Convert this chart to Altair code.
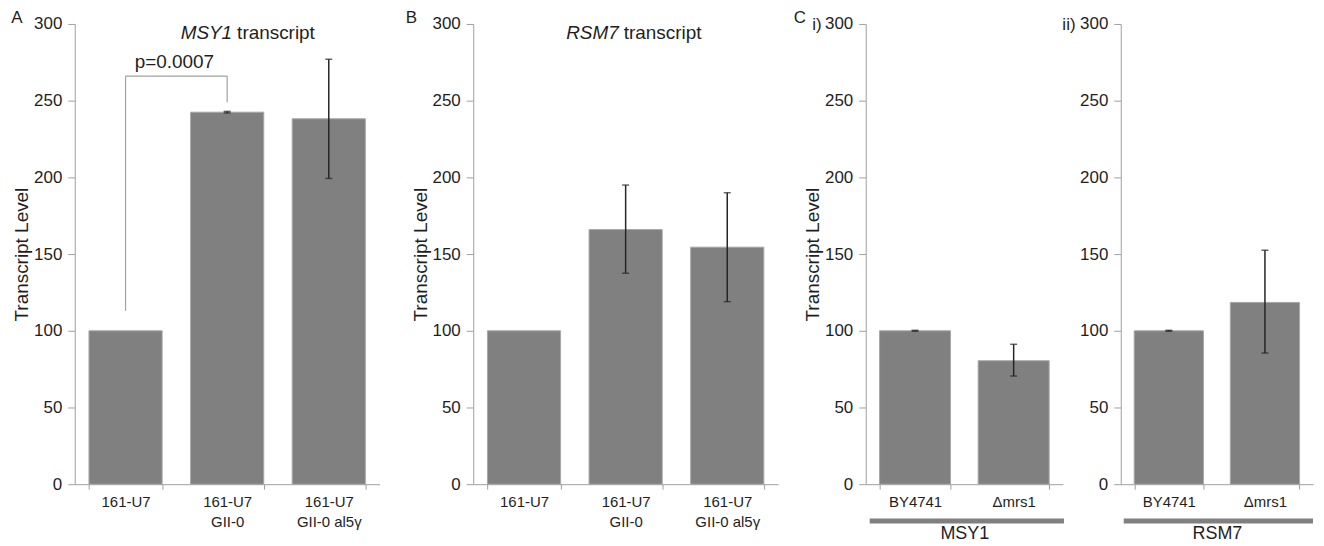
import altair as alt
import pandas as pd

FONT = "Liberation Sans, Arial, Helvetica, sans-serif"
TEXT = "#1e1e1e"
AXIS = "#a0a0a0"
BAR = "#808080"
ERR = "#262626"

# ---------------- data ----------------
cats_ab = ["161-U7", "161-U7\nGII-0", "161-U7\nGII-0 al5γ"]
msy1_vals = [100.0, 242.5, 238.2]
msy1_lo = [None, 242.0, 199.3]
msy1_hi = [None, 243.0, 277.0]
rsm7_vals = [100.0, 166.0, 154.5]
rsm7_lo = [None, 137.5, 119.0]
rsm7_hi = [None, 195.0, 190.0]

cats_c = ["BY4741", "Δmrs1"]
c_msy1_vals = [100.0, 80.5]
c_msy1_lo = [99.7, 70.5]
c_msy1_hi = [100.3, 91.2]
c_rsm7_vals = [100.0, 118.5]
c_rsm7_lo = [99.7, 85.5]
c_rsm7_hi = [100.3, 152.5]

y_ticks = [0, 50, 100, 150, 200, 250, 300]

bracket_cats = [cats_ab[0], cats_ab[1]]
bracket_bottoms = [113, 249]
bracket_top = 266
p_label = "p=0.0007"
p_label_y = 275

H = 462
YTITLE = "Transcript Level"


def xenc(field, cats, plot_w, xtitle):
    kw = dict(
        sort=cats,
        scale=alt.Scale(domain=cats, range=[0, plot_w], paddingInner=0.28, paddingOuter=0.14),
        axis=alt.Axis(
            tickBand="extent", labelAngle=0, labelExpr="split(datum.label, '\\n')",
            labelLineHeight=20, labelFontSize=15, labelColor=TEXT, labelPadding=5,
            tickSize=5, tickColor=AXIS, domainColor=AXIS, labelOverlap=False,
            titleFontSize=18, titleFontWeight="normal", titleColor=TEXT, titlePadding=16,
        ),
    )
    if xtitle:
        return alt.X(f"{field}:N", title=xtitle, **kw)
    return alt.X(f"{field}:N", title=None, **kw)


def yenc(field, show_title):
    kw = dict(
        scale=alt.Scale(domain=[0, 300], nice=False),
        axis=alt.Axis(
            values=y_ticks, grid=False, tickSize=7, labelPadding=6, labelFontSize=17,
            labelColor=TEXT, tickColor=AXIS, domainColor=AXIS,
            titleFontSize=19, titleFontWeight="normal", titleColor=TEXT, titlePadding=2,
        ),
    )
    if show_title:
        return alt.Y(f"{field}:Q", title=YTITLE, **kw)
    return alt.Y(f"{field}:Q", title=None, **kw)


def label(txt, x, y, size=17, align="center", style="normal"):
    return alt.Chart(pd.DataFrame({"t": [txt]})).mark_text(
        fontSize=size, align=align, baseline="middle", color=TEXT, fontStyle=style
    ).encode(x=alt.value(x), y=alt.value(y), text="t:N")


def panel(cats, vals, lo, hi, plot_w, show_ytitle, xtitle=None):
    df = pd.DataFrame({"cat": cats, "val": vals})
    err = pd.DataFrame({"cat": cats, "lo": lo, "hi": hi}).dropna()
    x = xenc("cat", cats, plot_w, xtitle)
    bars = alt.Chart(df).mark_bar(color=BAR, stroke="#a8a8a8", strokeWidth=1).encode(
        x=x, y=yenc("val", show_ytitle)
    )
    rule = alt.Chart(err).mark_rule(color=ERR, strokeWidth=1.5).encode(
        x=x, y=yenc("lo", show_ytitle), y2="hi:Q"
    )
    cap_lo = alt.Chart(err).mark_tick(color=ERR, thickness=1.5, size=7, orient="horizontal").encode(
        x=x, y=yenc("lo", show_ytitle)
    )
    cap_hi = alt.Chart(err).mark_tick(color=ERR, thickness=1.5, size=7, orient="horizontal").encode(
        x=x, y=yenc("hi", show_ytitle)
    )
    return [bars, rule, cap_lo, cap_hi], x


LET_Y = -5.5

# ---------------- panel A ----------------
layersA, xA = panel(cats_ab, msy1_vals, msy1_lo, msy1_hi, 306, True)
br_v = alt.Chart(pd.DataFrame({"cat": bracket_cats, "y1": bracket_bottoms, "y2": [bracket_top] * 2})).mark_rule(
    color=AXIS, strokeWidth=1.2
).encode(x=xA, y=yenc("y1", True), y2="y2:Q")
br_h = alt.Chart(pd.DataFrame({"cat": [bracket_cats[0]], "cat2": [bracket_cats[1]], "y": [bracket_top]})).mark_rule(
    color=AXIS, strokeWidth=1.2
).encode(x=xA, x2="cat2:N", y=yenc("y", True))
ptxt = alt.Chart(pd.DataFrame({"cat": [bracket_cats[0]], "y": [p_label_y], "t": [p_label]})).mark_text(
    fontSize=19, color=TEXT, dx=49, baseline="middle"
).encode(x=xA, y=yenc("y", True), text="t:N")
chartA = alt.layer(
    *layersA, br_v, br_h, ptxt,
    label("A", -58, LET_Y),
    label("MSY1", 158, 9, size=19, align="right", style="italic"),
    label("transcript", 163, 9, size=19, align="left"),
).properties(width=400, height=H)

# ---------------- panel B ----------------
layersB, xB = panel(cats_ab, rsm7_vals, rsm7_lo, rsm7_hi, 306, True)
chartB = alt.layer(
    *layersB,
    label("B", -62, LET_Y),
    label("RSM7", 146, 9, size=19, align="right", style="italic"),
    label("transcript", 151, 9, size=19, align="left"),
).properties(width=394, height=H)

# ---------------- panel C i ----------------
layersC1, xC1 = panel(cats_c, c_msy1_vals, c_msy1_lo, c_msy1_hi, 198, True, "MSY1")
band1 = alt.Chart(pd.DataFrame({"t": [0]})).mark_rule(color=BAR, strokeWidth=5).encode(
    x=alt.value(4), x2=alt.value(199), y=alt.value(H + 37)
)
chartC1 = alt.layer(
    *layersC1, band1,
    label("C", -66, LET_Y),
    label("i)", -49, 1),
).properties(width=256, height=H)

# ---------------- panel C ii ----------------
CII_W = 193
layersC2, xC2 = panel(cats_c, c_rsm7_vals, c_rsm7_lo, c_rsm7_hi, CII_W, False, "RSM7")
band2 = alt.Chart(pd.DataFrame({"t": [0]})).mark_rule(color=BAR, strokeWidth=5).encode(
    x=alt.value(3), x2=alt.value(CII_W), y=alt.value(H + 37)
)
chartC2 = alt.layer(
    *layersC2, band2,
    label("ii)", -52, 1),
).properties(width=CII_W, height=H)

chart = alt.hconcat(chartA, chartB, chartC1, chartC2, spacing=0, bounds="flush").properties(
    padding={"left": 3, "top": 0, "right": 0, "bottom": 0}
).configure(font=FONT).configure_view(strokeWidth=0)

chart.save("out.html", embed_options={"renderer": "svg", "actions": False})
